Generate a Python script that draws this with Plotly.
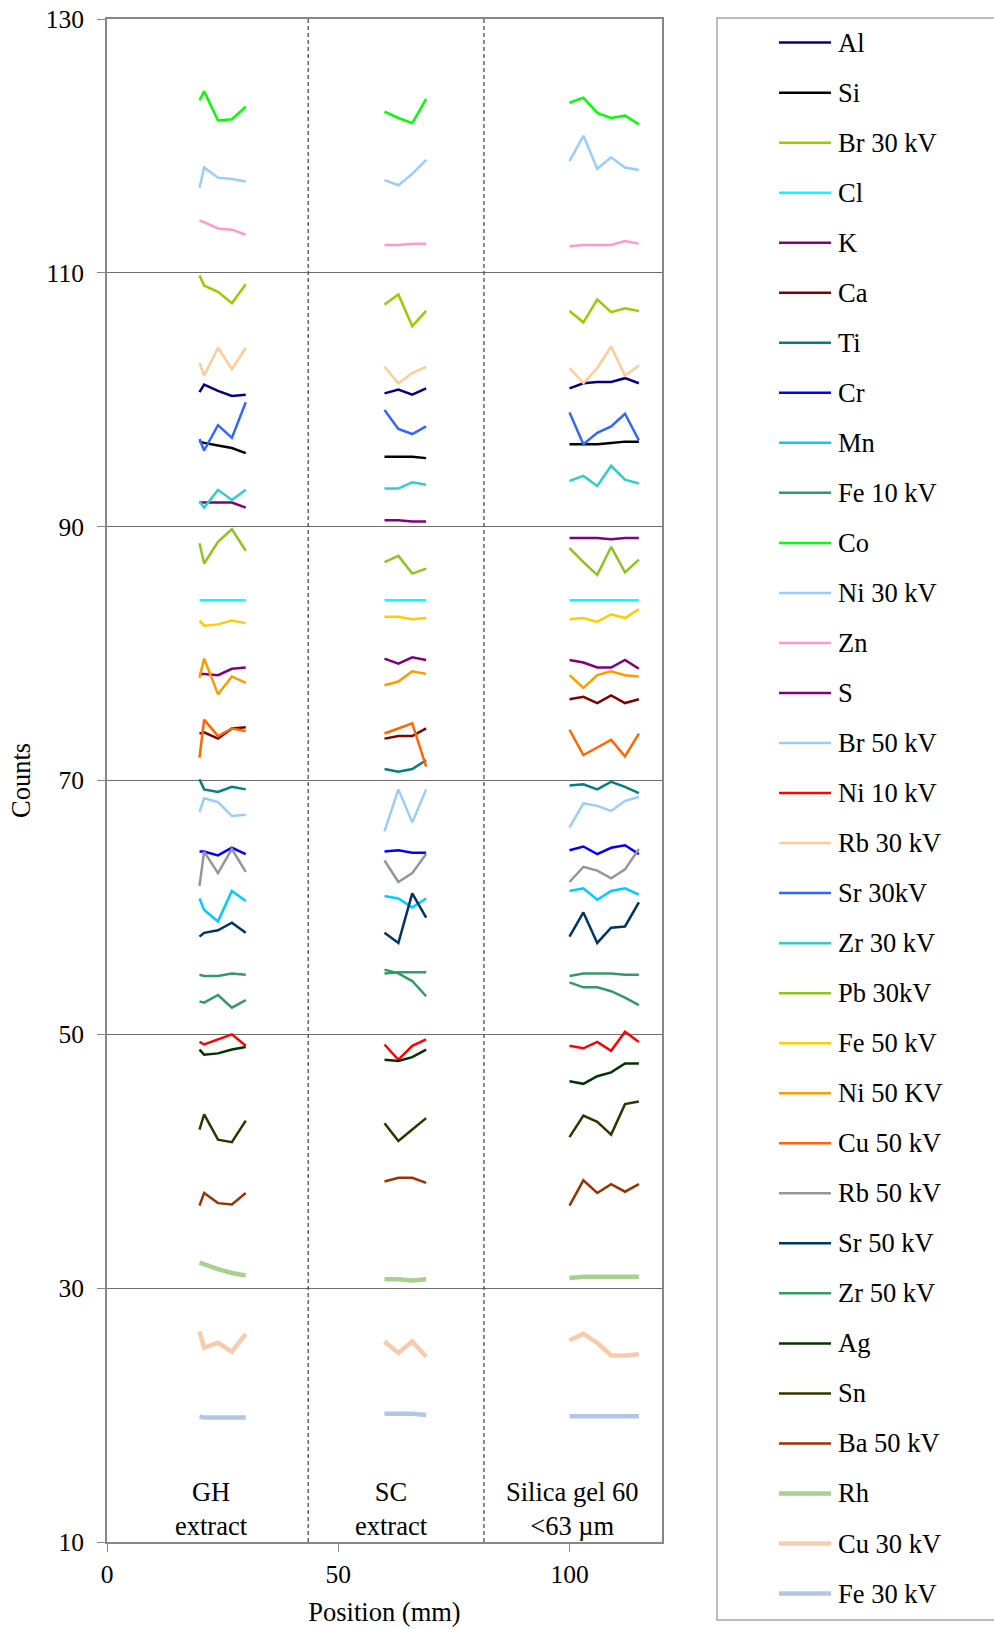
import plotly.graph_objects as go

# Scan positions (mm) for the three lanes
GH_X = [20, 21, 24, 27, 30]
SC_X = [60, 63, 66, 69]
SILICA_X = [100, 103, 106, 109, 112, 115]

# Counts per element: [GH extract, SC extract, Silica gel 60]
AL = [[100.6, 101.2, 100.7, 100.3, 100.4], [100.5, 100.8, 100.4, 100.9], [100.9, 101.3, 101.4, 101.4, 101.7, 101.3]]
SI = [[96.7, 96.6, 96.4, 96.2, 95.8], [95.5, 95.5, 95.5, 95.4], [96.5, 96.5, 96.5, 96.6, 96.7, 96.7]]
BR30 = [[109.8, 109.0, 108.5, 107.6, 109.1], [107.5, 108.3, 105.8, 107.0], [107.0, 106.1, 107.9, 106.9, 107.2, 107.0]]
CL = [[84.2, 84.2, 84.2, 84.2, 84.2], [84.2, 84.2, 84.2, 84.2], [84.2, 84.2, 84.2, 84.2, 84.2, 84.2]]
K = [[91.9, 91.9, 91.9, 91.9, 91.5], [90.5, 90.5, 90.4, 90.4], [89.1, 89.1, 89.1, 89.0, 89.1, 89.1]]
CA = [[73.7, 73.8, 73.3, 74.1, 74.2], [73.3, 73.5, 73.5, 74.1], [76.4, 76.6, 76.1, 76.7, 76.1, 76.4]]
TI = [[70.1, 69.3, 69.1, 69.5, 69.3], [70.9, 70.7, 70.9, 71.6], [69.6, 69.7, 69.3, 69.9, 69.5, 69.0]]
CR = [[64.4, 64.4, 64.1, 64.7, 64.2], [64.4, 64.5, 64.3, 64.3], [64.5, 64.8, 64.2, 64.7, 64.9, 64.2]]
MN = [[60.7, 59.8, 58.9, 61.3, 60.5], [60.9, 60.7, 60.0, 60.7], [61.3, 61.5, 60.6, 61.3, 61.5, 61.0]]
FE10 = [[52.6, 52.5, 53.1, 52.1, 52.7], [55.1, 54.8, 54.2, 53.0], [54.1, 53.7, 53.7, 53.4, 52.9, 52.3]]
CO = [[123.6, 124.3, 122.0, 122.1, 123.1], [122.7, 122.2, 121.8, 123.7], [123.4, 123.8, 122.6, 122.2, 122.4, 121.7]]
NI30 = [[116.7, 118.3, 117.5, 117.4, 117.2], [117.3, 116.9, 117.8, 118.9], [118.8, 120.8, 118.2, 119.1, 118.3, 118.1]]
ZN = [[114.1, 114.0, 113.5, 113.4, 113.0], [112.2, 112.2, 112.3, 112.3], [112.1, 112.2, 112.2, 112.2, 112.5, 112.3]]
S = [[78.4, 78.4, 78.3, 78.8, 78.9], [79.6, 79.2, 79.7, 79.5], [79.5, 79.3, 78.9, 78.9, 79.5, 78.8]]
BR50 = [[67.5, 68.6, 68.3, 67.2, 67.3], [66.0, 69.3, 66.7, 69.3], [66.3, 68.2, 68.0, 67.6, 68.4, 68.7]]
NI10 = [[49.4, 49.2, 49.6, 50.0, 49.1], [49.2, 48.0, 49.1, 49.6], [49.1, 48.9, 49.4, 48.7, 50.2, 49.4]]
RB30 = [[102.9, 101.9, 104.1, 102.4, 104.1], [102.6, 101.3, 102.1, 102.6], [102.5, 101.3, 102.5, 104.2, 101.9, 102.7]]
SR30 = [[96.9, 96.0, 98.0, 97.0, 99.8], [99.2, 97.7, 97.3, 97.9], [99.0, 96.5, 97.4, 97.9, 98.9, 96.8]]
ZR30 = [[92.0, 91.5, 92.9, 92.1, 92.9], [93.0, 93.0, 93.5, 93.3], [93.6, 94.0, 93.2, 94.8, 93.7, 93.4]]
PB30 = [[88.7, 87.1, 88.8, 89.8, 88.1], [87.2, 87.7, 86.3, 86.7], [88.3, 87.2, 86.2, 88.4, 86.4, 87.4]]
FE50 = [[82.6, 82.2, 82.3, 82.6, 82.4], [82.9, 82.9, 82.7, 82.8], [82.7, 82.8, 82.5, 83.1, 82.8, 83.5]]
NI50 = [[78.1, 79.6, 76.8, 78.2, 77.7], [77.5, 77.8, 78.6, 78.4], [78.3, 77.3, 78.3, 78.6, 78.3, 78.2]]
CU50 = [[71.8, 74.8, 73.5, 74.1, 73.9], [73.7, 74.1, 74.5, 71.1], [74.0, 72.0, 72.6, 73.2, 71.9, 73.7]]
RB50 = [[61.7, 64.4, 62.7, 64.6, 62.8], [63.7, 62.0, 62.7, 64.2], [62.0, 63.2, 62.9, 62.3, 63.0, 64.6]]
SR50 = [[57.7, 58.0, 58.2, 58.8, 58.0], [58.0, 57.2, 61.1, 59.2], [57.7, 59.6, 57.2, 58.4, 58.5, 60.4]]
ZR50 = [[54.7, 54.6, 54.6, 54.8, 54.7], [54.8, 54.9, 54.9, 54.9], [54.6, 54.8, 54.8, 54.8, 54.7, 54.7]]
AG = [[48.8, 48.4, 48.5, 48.8, 49.0], [48.0, 47.9, 48.2, 48.8], [46.3, 46.1, 46.7, 47.0, 47.7, 47.7]]
SN = [[42.5, 43.7, 41.7, 41.5, 43.2], [43.0, 41.6, 42.5, 43.4], [41.9, 43.6, 43.1, 42.1, 44.5, 44.7]]
BA50 = [[36.5, 37.5, 36.7, 36.6, 37.5], [38.4, 38.7, 38.7, 38.3], [36.5, 38.5, 37.5, 38.2, 37.6, 38.2]]
RH = [[32.0, 31.9, 31.5, 31.2, 31.0], [30.7, 30.7, 30.6, 30.7], [30.8, 30.9, 30.9, 30.9, 30.9, 30.9]]
CU30 = [[26.6, 25.3, 25.7, 25.0, 26.4], [25.8, 24.9, 25.8, 24.6], [25.9, 26.4, 25.7, 24.7, 24.7, 24.8]]
FE30 = [[19.9, 19.8, 19.8, 19.8, 19.8], [20.1, 20.1, 20.1, 20.0], [19.9, 19.9, 19.9, 19.9, 19.9, 19.9]]

SERIES = [
    ("Al", AL), ("Si", SI), ("Br 30 kV", BR30), ("Cl", CL), ("K", K),
    ("Ca", CA), ("Ti", TI), ("Cr", CR), ("Mn", MN), ("Fe 10 kV", FE10),
    ("Co", CO), ("Ni 30 kV", NI30), ("Zn", ZN), ("S", S), ("Br 50 kV", BR50),
    ("Ni 10 kV", NI10), ("Rb 30 kV", RB30), ("Sr 30kV", SR30), ("Zr 30 kV", ZR30),
    ("Pb 30kV", PB30), ("Fe 50 kV", FE50), ("Ni 50 KV", NI50), ("Cu 50 kV", CU50),
    ("Rb 50 kV", RB50), ("Sr 50 kV", SR50), ("Zr 50 kV", ZR50), ("Ag", AG),
    ("Sn", SN), ("Ba 50 kV", BA50), ("Rh", RH), ("Cu 30 kV", CU30), ("Fe 30 kV", FE30),
]

# Line colour and width per element
STYLE = {
    "Al": ("#000080", 2.5), "Si": ("#000000", 2.5), "Br 30 kV": ("#99CC00", 2.5),
    "Cl": ("#00FFFF", 2.5), "K": ("#800080", 2.5), "Ca": ("#800000", 2.5),
    "Ti": ("#008080", 2.5), "Cr": ("#0000FF", 2.5), "Mn": ("#00CCFF", 2.5),
    "Fe 10 kV": ("#339966", 2.5), "Co": ("#00FF00", 2.5), "Ni 30 kV": ("#99CCFF", 2.5),
    "Zn": ("#FF99CC", 2.5), "S": ("#7F007F", 2.5), "Br 50 kV": ("#99CCFF", 2.5),
    "Ni 10 kV": ("#FF0000", 2.5), "Rb 30 kV": ("#FFCC99", 2.5), "Sr 30kV": ("#3366FF", 2.5),
    "Zr 30 kV": ("#33CCCC", 2.5), "Pb 30kV": ("#8FC31F", 2.5), "Fe 50 kV": ("#FFCC00", 2.5),
    "Ni 50 KV": ("#FF9900", 2.5), "Cu 50 kV": ("#FF6600", 2.5), "Rb 50 kV": ("#969696", 2.5),
    "Sr 50 kV": ("#003366", 2.5), "Zr 50 kV": ("#339966", 2.5), "Ag": ("#003300", 2.5),
    "Sn": ("#333300", 2.5), "Ba 50 kV": ("#993300", 2.5), "Rh": ("#A9D08E", 4.5),
    "Cu 30 kV": ("#F8CBAD", 4.5), "Fe 30 kV": ("#B4C6E7", 4.5),
}

FONT = "Liberation Serif, Times New Roman, serif"
TEXT_SIZE = 26.5
TICK_SIZE = 25.5
X_ALL = GH_X + [None] + SC_X + [None] + SILICA_X

# Page geometry (px) of the plotting area, used to place the key in paper units
W, H = 994, 1629
M_L, M_R, M_T, M_B = 107, 332, 19, 87
PW, PH = W - M_L - M_R, H - M_T - M_B


def px_x(x):
    return (x - M_L) / PW


def px_y(y):
    return (H - M_B - y) / PH


fig = go.Figure()
for name, (gh, sc, sil) in SERIES:
    color, width = STYLE[name]
    fig.add_trace(go.Scatter(
        x=X_ALL, y=gh + [None] + sc + [None] + sil,
        mode="lines", name=name, showlegend=False,
        line=dict(color=color, width=width),
        connectgaps=False,
    ))

# Lane separators
for xs in (43.5, 81.5):
    fig.add_shape(type="line", xref="x", yref="paper", x0=xs, x1=xs, y0=0, y1=1,
                  line=dict(color="#404040", width=1.2, dash="4px,3px"))

# Key: frame, sample strokes and labels
fig.add_shape(type="rect", xref="paper", yref="paper",
              x0=px_x(717), x1=px_x(1010), y0=px_y(1620), y1=px_y(18),
              line=dict(color="#a6a6a6", width=1.5), fillcolor="rgba(0,0,0,0)")
KEY_TOP, KEY_STEP = 42.6, 50.03
for i, (name, _) in enumerate(SERIES):
    color, width = STYLE[name]
    yk = KEY_TOP + i * KEY_STEP
    fig.add_shape(type="line", xref="paper", yref="paper",
                  x0=px_x(779), x1=px_x(831), y0=px_y(yk), y1=px_y(yk),
                  line=dict(color=color, width=width))
    fig.add_annotation(x=px_x(836), y=px_y(yk), xref="paper", yref="paper",
                       text=name, showarrow=False, xanchor="left", yanchor="middle",
                       font=dict(family=FONT, size=TEXT_SIZE, color="#000"))

LANES = [(22.5, "GH<br>extract"), (61.5, "SC<br>extract"), (100.5, "Silica gel 60<br>&lt;63 µm")]
for xl, txt in LANES:
    fig.add_annotation(x=xl, y=10, xref="x", yref="y", text=txt, showarrow=False,
                       yanchor="bottom", yshift=-1, font=dict(family=FONT, size=TEXT_SIZE, color="#000"))

fig.update_layout(
    width=W, height=H,
    margin=dict(l=M_L, r=M_R, t=M_T, b=M_B),
    plot_bgcolor="white", paper_bgcolor="white",
    font=dict(family=FONT, size=TEXT_SIZE, color="#000"),
    showlegend=False,
)
fig.update_xaxes(
    automargin=False,
    range=[0, 120], tickvals=[0, 50, 100], ticks="outside", ticklen=8,
    tickcolor="#878787", showgrid=False, zeroline=False,
    showline=True, mirror=True, linecolor="#878787", linewidth=2,
    title=dict(text="Position (mm)", standoff=15, font=dict(family=FONT, size=TEXT_SIZE)),
    tickfont=dict(family=FONT, size=TICK_SIZE),
)
fig.update_yaxes(
    automargin=False,
    range=[10, 130], tick0=10, dtick=20, ticks="outside", ticklen=8,
    tickcolor="#878787", showgrid=True, gridcolor="#6e6e6e", gridwidth=1,
    zeroline=False, showline=True, mirror=True, linecolor="#878787", linewidth=2,
    ticklabelstandoff=8,
    title=dict(text="Counts", standoff=7, font=dict(family=FONT, size=TEXT_SIZE)),
    tickfont=dict(family=FONT, size=TICK_SIZE),
)

fig.write_html("out.html")
